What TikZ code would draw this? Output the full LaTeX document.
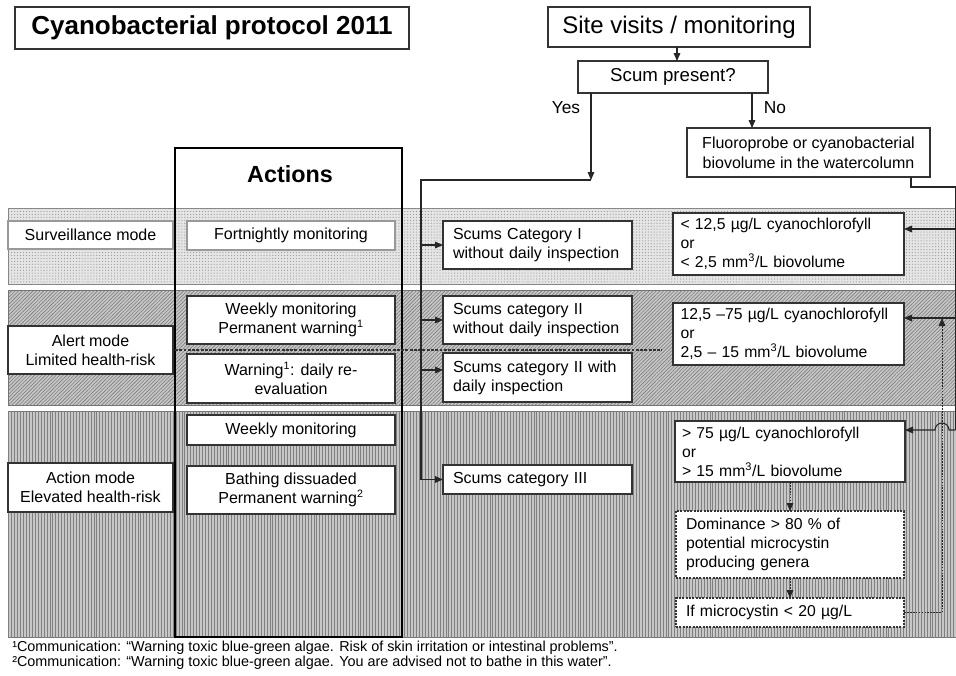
\documentclass[tikz,border=0pt]{standalone}
\usepackage{fontspec}
\setmainfont{Liberation Sans}
\usetikzlibrary{arrows.meta,patterns,patterns.meta,calc}

\newcommand\bx[6]{\node[#1, minimum width={(#5-#3)*0.75pt}, minimum height={(#6-#4)*0.75pt}] (#2) at ({(#3+#5)/2},{(#4+#6)/2})}

\tikzset{
  box/.style={draw=black!80, fill=white, line width=1.1pt, inner sep=0pt, outer sep=0pt,
    align=center, font=\fontsize{12}{14.2}\selectfont},
  lbox/.style={box, draw=black!40},
  rbox/.style={box, text width=162pt, align=left, font=\fontsize{11.8}{14.3}\selectfont},
  dbox/.style={rbox, text width=156pt, line width=0.8pt, dash pattern=on 1.5pt off 1pt},
  conn/.style={draw=black!85, line width=0.8pt},
  arr/.style={conn, -{Triangle[length=6pt,width=5pt]}},
  darr/.style={arr, line width=0.6pt, dash pattern=on 1.3pt off 0.9pt},
}

\begin{document}
\begin{tikzpicture}[x=0.75pt,y=-0.75pt]
\useasboundingbox (0,0) rectangle (956,675);
\clip (0,0) rectangle (956,675);
\fill[white] (0,0) rectangle (956,675);

% bands
\path[fill=black!10, draw=black!50, line width=0.6pt,
  postaction={pattern={Dots[distance=2.2pt, radius=0.45pt]}, pattern color=black!40}]
  (8,208) rectangle (962,284);
\path[fill=black!22, draw=black!55, line width=0.6pt,
  postaction={pattern={Lines[angle=45, distance=1.9pt, line width=0.45pt]}, pattern color=black!52}]
  (8,290) rectangle (962,405);
\path[fill=black!22, draw=black!55, line width=0.6pt,
  postaction={pattern={Lines[angle=90, distance=2.2pt, line width=0.5pt]}, pattern color=black!50}]
  (8,411) rectangle (962,637);

% top flow
\bx{box, font=\bfseries\fontsize{19.5}{22}\selectfont}{title}{15}{7}{409}{49} {Cyanobacterial protocol 2011};
\bx{box, font=\fontsize{18}{20}\selectfont}{site}{548}{7}{810}{47} {Site visits / monitoring};
\bx{box, font=\fontsize{14}{16}\selectfont}{scum}{578}{61}{768}{93} {Scum present?};
\node[font=\fontsize{13}{15}\selectfont, inner sep=0pt] (yes) at (566,108) {Yes};
\node[font=\fontsize{13}{15}\selectfont, inner sep=0pt] (no) at (775,108) {No};
\bx{box, font=\fontsize{12}{15}\selectfont}{fluoro}{687}{128}{930}{177} {Fluoroprobe or cyanobacterial\\biovolume in the watercolumn};

% mode boxes
\bx{lbox}{surv}{8}{221}{173}{249} {Surveillance mode};
\bx{box}{alert}{8}{326}{173}{374} {Alert mode\\Limited health-risk};
\bx{box}{action}{8}{463}{173}{512} {Action mode\\Elevated health-risk};

% actions
\bx{lbox}{a1}{187}{221}{395}{250} {Fortnightly monitoring};
\bx{box}{a2}{187}{296}{395}{344} {Weekly monitoring\\Permanent warning\textsuperscript{1}};
\bx{box}{a3}{187}{354}{395}{403} {Warning\textsuperscript{1}: daily re-\\evaluation};
\bx{box}{a4}{187}{415}{395}{445} {Weekly monitoring};
\bx{box}{a5}{187}{466}{395}{514} {Bathing dissuaded\\Permanent warning\textsuperscript{2}};
\bx{draw=black, line width=2.2pt, inner sep=0pt}{actcol}{175}{148}{402}{637} {};
\node[font=\bfseries\fontsize{17.5}{20}\selectfont, inner sep=0pt] (actlbl) at (290,174) {Actions};

% scums
\bx{box, text width=126.75pt, align=left}{s1}{443}{221}{632}{269} {Scums Category I\\without daily inspection};
\bx{box, text width=126.75pt, align=left}{s2}{443}{296}{632}{344} {Scums category II\\without daily inspection};
\bx{box, text width=126.75pt, align=left}{s3}{443}{353}{632}{402} {Scums category II with\\daily inspection};
\bx{box, text width=126.75pt, align=left}{s4}{443}{465}{632}{494} {Scums category III};

% right column
\bx{rbox}{r1}{673}{213}{904}{275} {< 12,5 µg/L cyanochlorofyll\\or\\< 2,5 mm\textsuperscript{3}/L biovolume};
\bx{rbox}{r2}{673}{303}{904}{365} {12,5 –75 µg/L cyanochlorofyll\\or\\2,5 – 15 mm\textsuperscript{3}/L biovolume};
\bx{rbox}{r3}{675}{421}{905}{482} {> 75 µg/L cyanochlorofyll\\or\\> 15 mm\textsuperscript{3}/L biovolume};
\bx{dbox}{dom}{676}{511}{904}{578} {Dominance > 80 \% of\\potential microcystin\\producing genera};
\bx{dbox}{mc}{676}{598}{904}{627} {If microcystin < 20 µg/L};

% divider
\coordinate (dv1) at (175,350);
\coordinate (dv2) at (662,350);
\draw[black!80, line width=0.9pt, dash pattern=on 2.2pt off 1pt] (dv1) -- (dv2);

% connectors
\draw[arr] (site.south -| 677,0) -- (scum.north -| 677,0);
\coordinate (ycorner) at (591,180);
\coordinate (vtop) at (421,180);
\draw[arr] (scum.south -| ycorner) -- (ycorner);
\draw[arr] (ycorner) -- (vtop) |- (s4.west);
\draw[arr] (vtop |- s1.west) -- (s1.west);
\draw[arr] (vtop |- s2.west) -- (s2.west);
\draw[arr] (vtop |- 0,370) -- (s3.west |- 0,370);
\draw[arr] (scum.south -| 752,0) -- (fluoro.north -| 752,0);

\coordinate (fr1) at (911,187);
\coordinate (fr2) at (955.5,187);
\coordinate (e1) at (955.5,229);
\coordinate (e2) at (955.5,318);
\coordinate (e3) at (955.5,430);
\draw[conn] (fluoro.south -| fr1) -- (fr1) -- (fr2) -- (e3);
\draw[arr] (e1) -- (r1.east |- e1);
\draw[arr] (e2) -- (r2.east |- e2);
\draw[arr] (e3) -- (949,430) arc[start angle=0, end angle=-180, radius=7] -- (r3.east |- e3);

\coordinate (fb) at (942,318);
\draw[darr] (mc.east) -| (fb);
\draw[darr] (r3.south) -- (dom.north);
\draw[darr] (dom.south) -- (mc.north);

% footnotes
\node[anchor=base west, font=\fontsize{10.8}{12}\selectfont, inner sep=0pt] (fn1) at (12,651)
  {¹Communication: “Warning toxic blue-green algae. Risk of skin irritation or intestinal problems”.};
\node[anchor=base west, font=\fontsize{10.8}{12}\selectfont, inner sep=0pt] (fn2) at (12,666)
  {²Communication: “Warning toxic blue-green algae. You are advised not to bathe in this water”.};
\end{tikzpicture}
\end{document}
